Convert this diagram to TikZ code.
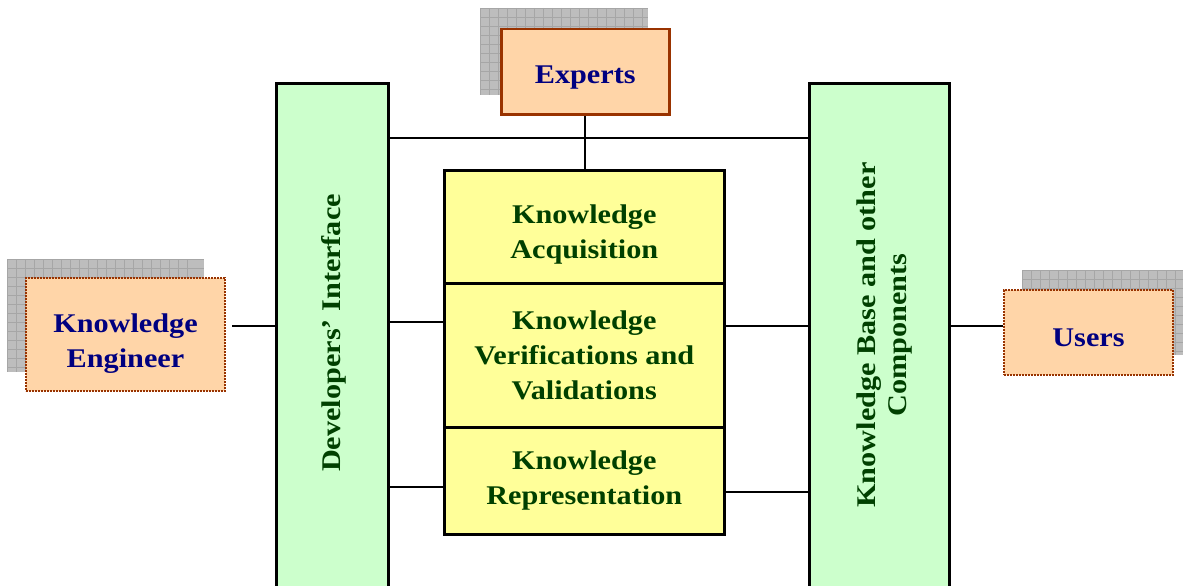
\documentclass[tikz,border=0pt]{standalone}
\usepackage{fontspec}
\setmainfont[FakeStretch=1.12]{Liberation Serif}
\definecolor{peach}{HTML}{FFD5A8}
\definecolor{brownb}{HTML}{993300}
\definecolor{navy}{HTML}{000080}
\definecolor{dgreen}{HTML}{004000}
\definecolor{lgreen}{HTML}{CCFFCC}
\definecolor{lyellow}{HTML}{FFFF99}
\definecolor{shad}{HTML}{BDBDBD}
\begin{document}
\begin{tikzpicture}[x=1pt,y=-1pt,
  txt/.style={font=\fontsize{27}{35}\selectfont\bfseries, align=center},
  orangebox/.style={fill=peach, draw=brownb},
  greenbox/.style={fill=lgreen, draw=black, line width=2.5pt},
  yelbox/.style={fill=lyellow, draw=black, line width=2.5pt},
  conn/.style={draw=black, line width=1.6pt},
  shadowbox/.style={fill=shad}]
\useasboundingbox (0,0) rectangle (1183,586);
% shadows
\foreach \xa/\ya/\xb/\yb in {480/8/648/95, 7/259/204/372, 1022/270/1183/355}{
  \fill[shad] (\xa,\ya) rectangle (\xb,\yb);
  \begin{scope}
  \clip (\xa,\ya) rectangle (\xb,\yb);
  \foreach \k in {0,...,20}{
    \draw[gray!70, line width=0.5pt] (\xa+\k*9,\ya) -- (\xa+\k*9,\yb);
  }
  \foreach \k in {0,...,12}{
    \draw[gray!70, line width=0.5pt] (\xa,\ya+\k*9) -- (\xb,\ya+\k*9);
  }
  \end{scope}
}
% green columns
\node[greenbox, minimum width=112, minimum height=520, anchor=north west] (dev) at (275,82) {};
\node[greenbox, minimum width=140, minimum height=520, anchor=north west] (kb) at (808,82) {};
\node[txt, text=dgreen, rotate=90] at (334,333) {Developers’ Interface};
\node[txt, text=dgreen, rotate=90, font=\fontsize{27}{31}\selectfont\bfseries] at (884,335) {Knowledge Base and other\\Components};
% yellow boxes
\node[yelbox, minimum width=280, minimum height=113, anchor=north west] (acq) at (443,169) {};
\node[txt, text=dgreen] at ([yshift=-8]acq.center) {Knowledge\\Acquisition};
\node[yelbox, minimum width=280, minimum height=144, anchor=north west, text=dgreen, txt] (ver) at (443,282) {Knowledge\\Verifications and\\Validations};
\node[yelbox, minimum width=280, minimum height=107, anchor=north west, text=dgreen, txt] (rep) at (443,426) {Knowledge\\Representation};
% orange boxes
\node[orangebox, line width=2.5pt, minimum width=168, minimum height=85, anchor=north west] (exp) at (500,28) {};
\node[txt, text=navy] at ([yshift=-6]exp.center) {Experts};
\node[orangebox, densely dotted, line width=2pt, minimum width=199, minimum height=113, anchor=north west] (ke) at (25,277) {};
\node[txt, text=navy] at ([yshift=-9]ke.center) {Knowledge\\Engineer};
\node[orangebox, densely dotted, line width=2pt, minimum width=169, minimum height=85, anchor=north west] (us) at (1003,289) {};
\node[txt, text=navy] at ([yshift=-5]us.center) {Users};
% connectors
\coordinate (ketip) at (232,326);
\draw[conn] (ketip) -- (dev.west |- ketip);
\draw[conn] (dev.east |- 0,138) -- (kb.west |- 0,138);
\draw[conn] (exp.south) -- (acq.north -| exp.south);
\draw[conn] (dev.east |- 0,322) -- (ver.west |- 0,322);
\draw[conn] (ver.east |- 0,326) -- (kb.west |- 0,326);
\draw[conn] (dev.east |- 0,487) -- (rep.west |- 0,487);
\draw[conn] (rep.east |- 0,492) -- (kb.west |- 0,492);
\draw[conn] (kb.east |- 0,326) -- (us.west |- 0,326);
\end{tikzpicture}
\end{document}
